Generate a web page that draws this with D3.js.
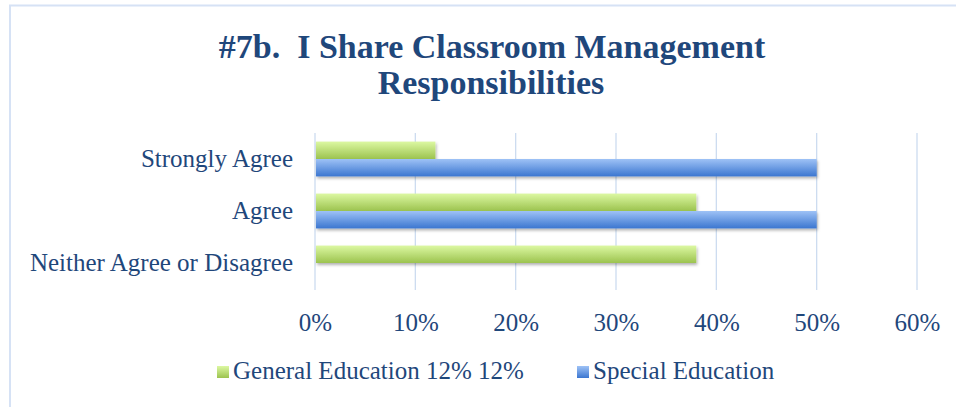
<!DOCTYPE html>
<html>
<head>
<meta charset="utf-8">
<script src="https://cdn.jsdelivr.net/npm/d3@7"></script>
<style>
  body { margin: 0; background: #fff; }
  text { font-family: "Liberation Serif", "DejaVu Serif", serif; fill: #1f477b; }
  .title { white-space: pre; }
</style>
</head>
<body>
<svg id="chart" width="956" height="407"></svg>
<script>
// data
const categories = ["Strongly Agree", "Agree", "Neither Agree or Disagree"];
const series = ["General Education 12% 12%", "Special Education"];
const general_ed = [0.12, 0.38, 0.38];
const special_ed = [0.5, 0.5, 0];
const x_ticks = [0, 0.1, 0.2, 0.3, 0.4, 0.5, 0.6];

const svg = d3.select("#chart");

// gradients + shadow
const defs = svg.append("defs");
function grad(id, top, bottom) {
  const g = defs.append("linearGradient").attr("id", id)
    .attr("x1", 0).attr("y1", 0).attr("x2", 0).attr("y2", 1);
  g.append("stop").attr("offset", "0%").attr("stop-color", top);
  g.append("stop").attr("offset", "100%").attr("stop-color", bottom);
}
grad("g_green", "#dcf8a2", "#9cc34f");
grad("g_blue", "#9ec2f6", "#3b76d0");
const sh = defs.append("filter").attr("id", "shadow")
  .attr("x", "-5%").attr("y", "-20%").attr("width", "110%").attr("height", "160%");
sh.append("feDropShadow").attr("dx", 1).attr("dy", 2).attr("stdDeviation", 1.5)
  .attr("flood-color", "#000").attr("flood-opacity", 0.3);

// chart border (light blue frame)
svg.append("rect")
  .attr("x", 10).attr("y", 5.5).attr("width", 960).attr("height", 420)
  .attr("fill", "none").attr("stroke", "#d6e2f5").attr("stroke-width", 2);

// title
const title = svg.append("text")
  .attr("class", "title")
  .attr("text-anchor", "middle")
  .style("font-weight", "bold")
  .style("font-size", "34px")
  .attr("fill", "#1f4a7e");
title.append("tspan").attr("x", 492).attr("y", 58).text("#7b.  I Share Classroom Management");
title.append("tspan").attr("x", 491).attr("y", 94).text("Responsibilities");

// scales
const x_scale = d3.scaleLinear().domain([0, 0.6]).range([315, 917]);
const y_scale = d3.scaleBand().domain(categories).range([133, 289])
  .paddingInner(0.33).paddingOuter(0.165);
const sub_scale = d3.scaleBand().domain(series).range([0, y_scale.bandwidth()]);

// grid lines
svg.append("g").attr("class", "grid")
  .selectAll("line").data(x_ticks).enter().append("line")
  .attr("x1", d => x_scale(d)).attr("x2", d => x_scale(d))
  .attr("y1", 133).attr("y2", 290)
  .attr("stroke", "#cddcf0").attr("stroke-width", 1.3);

// bars
const rows = categories.map((c, i) => ({ cat: c, vals: [general_ed[i], special_ed[i]] }));
const fills = ["url(#g_green)", "url(#g_blue)"];
svg.append("g").attr("class", "bars")
  .selectAll("g").data(rows).enter().append("g")
  .attr("transform", d => "translate(0," + y_scale(d.cat) + ")")
  .selectAll("rect").data(d => d.vals.map((v, j) => ({ v: v, s: series[j], j: j })))
  .enter().append("rect")
  .filter(d => d.v > 0)
  .attr("x", x_scale(0) + 1)
  .attr("y", d => sub_scale(d.s))
  .attr("width", d => x_scale(d.v) - x_scale(0) - 1)
  .attr("height", sub_scale.bandwidth())
  .attr("fill", d => fills[d.j])
  .attr("filter", "url(#shadow)");

// x axis labels
const x_axis = svg.append("g")
  .attr("transform", "translate(0,331)")
  .call(d3.axisBottom(x_scale).tickValues(x_ticks).tickFormat(d3.format(".0%")).tickSize(0).tickPadding(0));
x_axis.select(".domain").remove();
x_axis.selectAll("text").style("font-size", "25px").style("font-family", "Liberation Serif")
  .attr("fill", "#1f477b").attr("dy", "0");

// y axis labels
const y_axis = svg.append("g")
  .attr("transform", "translate(293,0)")
  .call(d3.axisLeft(y_scale).tickSize(0).tickPadding(0));
y_axis.select(".domain").remove();
y_axis.selectAll("text").style("font-size", "25px").style("font-family", "Liberation Serif")
  .attr("fill", "#1f477b").attr("dy", "0.3em");

// legend
const leg_x = [217, 577];
const legend = svg.append("g").attr("class", "legend")
  .selectAll("g").data(series).enter().append("g")
  .attr("transform", (d, i) => "translate(" + leg_x[i] + ",366)");
legend.append("rect").attr("width", 12).attr("height", 12)
  .attr("fill", (d, i) => fills[i]);
legend.append("text").attr("x", 16).attr("y", 13)
  .style("font-size", "25px").text(d => d);
</script>
</body>
</html>
